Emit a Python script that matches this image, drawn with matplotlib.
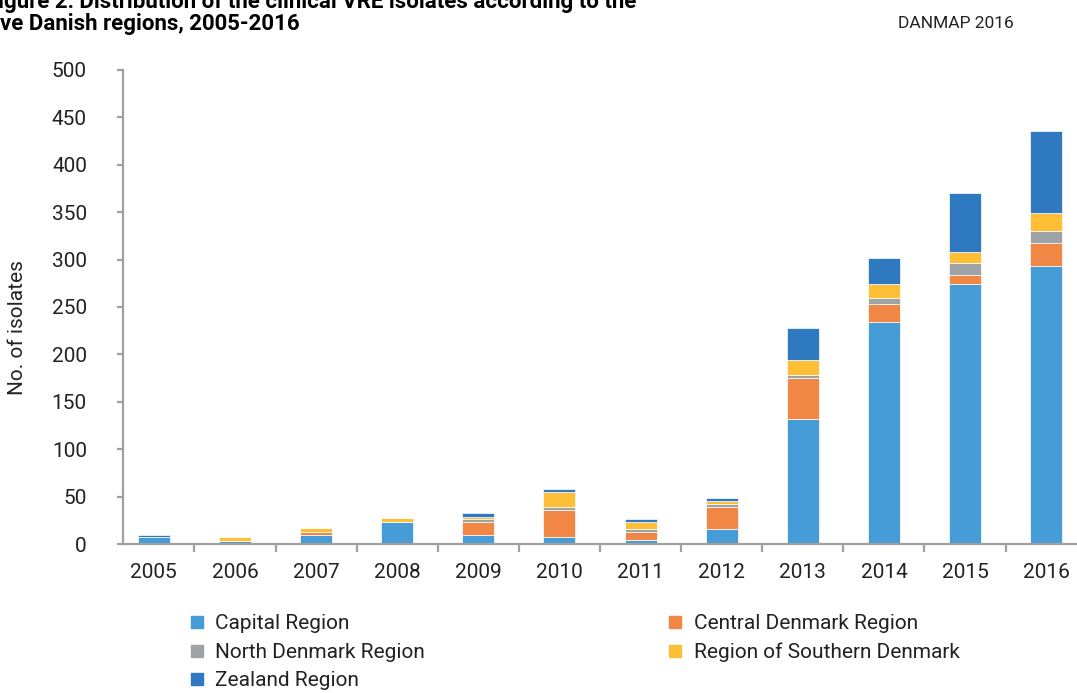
import matplotlib.pyplot as plt
import numpy as np
from matplotlib.lines import Line2D

years = ["2005", "2006", "2007", "2008", "2009", "2010",
         "2011", "2012", "2013", "2014", "2015", "2016"]
capital = [7, 3, 10, 23, 10, 7, 4, 16, 132, 234, 274, 293]
central = [0, 0, 3, 0, 13, 29, 9, 23, 43, 19, 10, 25]
north = [0, 0, 0, 0, 3, 3, 3, 3, 3, 6, 12, 12]
southern = [0, 4, 4, 4, 3, 16, 7, 3, 16, 15, 12, 19]
zealand = [3, 0, 0, 0, 4, 3, 3, 3, 34, 28, 62, 87]

regions = ["Capital Region", "Central Denmark Region", "North Denmark Region",
           "Region of Southern Denmark", "Zealand Region"]
colors = ["#459CD6", "#F18745", "#9EA4A5", "#FEBE35", "#2E79BF"]

plt.rcParams['font.family'] = ['Roboto', 'DejaVu Sans']
grey = "#A0A0A0"

fig = plt.figure(figsize=(10.77, 6.93), dpi=100)
ax = fig.add_axes([0.1142, 0.215, 0.8858, 0.684])

x = np.arange(len(years))
bottom = np.zeros(len(years))
for values, color in zip([capital, central, north, southern, zealand], colors):
    ax.bar(x, values, width=0.395, bottom=bottom, color=color,
           edgecolor="white", linewidth=0.5)
    bottom += np.array(values)

ax.set_xlim(-0.38, 11.38)
ax.set_ylim(0, 500)
ax.set_yticks(np.arange(0, 501, 50))
ax.set_xticks(x)
ax.set_xticklabels(years)
ax.set_xticks(np.arange(0.5, 11, 1), minor=True)

for side in ["top", "right"]:
    ax.spines[side].set_visible(False)
for side in ["left", "bottom"]:
    ax.spines[side].set_color(grey)
    ax.spines[side].set_linewidth(1.6)

ax.tick_params(axis="y", direction="out", length=4, width=1.6, color=grey,
               pad=22, labelsize=15, labelcolor="#222222")
ax.tick_params(axis="x", which="major", length=0, pad=14, labelsize=15,
               labelcolor="#222222")
ax.tick_params(axis="x", which="minor", direction="out", length=6, width=1.6,
               color=grey)

fig.text(18 / 1077, 1 - 328 / 693, "No. of isolates", rotation=90,
         ha="center", va="center", fontsize=15, color="#222222")

# title is cropped at the left and top edge in the reference
fig.text(-14 / 1077, 1 - 13 / 693,
         "Figure 2: Distribution of the clinical VRE isolates according to the\n"
         "five Danish regions, 2005-2016",
         ha="left", va="center", fontsize=16, fontweight="bold",
         linespacing=1.0)
fig.text(956 / 1077, 1 - 24 / 693, "DANMAP 2016", ha="center", va="center",
         fontsize=12.5, color="#222222")

handles = [Line2D([], [], marker="s", linestyle="", markersize=8,
                  color=c, label=r) for r, c in zip(regions, colors)]
order = [0, 2, 4, 1, 3]
fig.legend([handles[i] for i in order], [regions[i] for i in order],
           ncol=2, loc="upper left", bbox_to_anchor=(180 / 1077, 1 - 604 / 693),
           frameon=False, fontsize=15, handlelength=0.6, handletextpad=0.6,
           columnspacing=11.7, labelspacing=0.45, borderpad=0,
           labelcolor="#222222")

fig.savefig("out.png", dpi=100)
